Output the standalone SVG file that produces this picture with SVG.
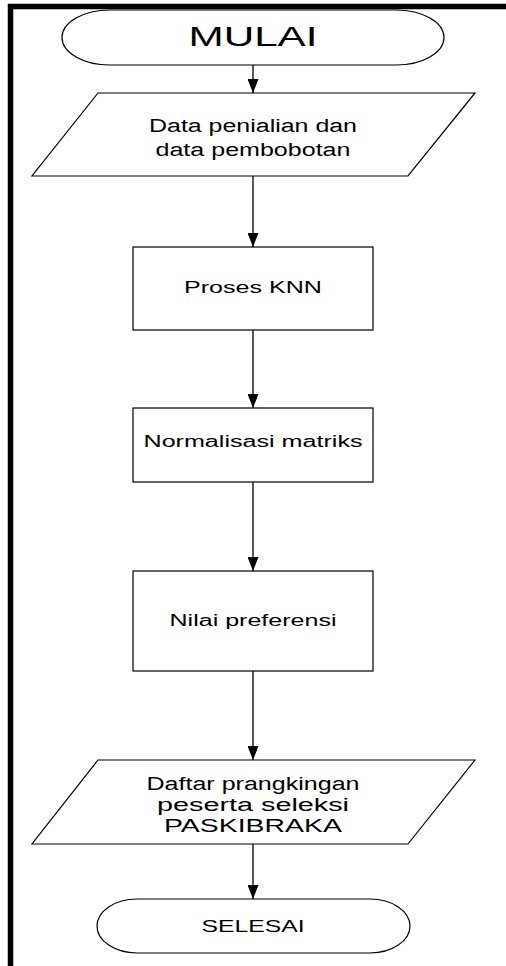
<svg xmlns="http://www.w3.org/2000/svg" width="506" height="966" viewBox="0 0 506 966">
<style>
.s{fill:#fff;stroke:#000;stroke-width:1.2}
.t{font-family:"Liberation Sans",Arial,sans-serif;fill:#000;text-anchor:middle}
.c{stroke:#000;stroke-width:1.3;fill:none}
</style>
<defs>
<marker id="ah" markerUnits="userSpaceOnUse" markerWidth="14" markerHeight="11" refX="14" refY="5.5" orient="auto">
<path d="M0,0 L14,5.5 L0,11 Z" fill="#000"/>
</marker>
</defs>
<rect width="506" height="966" fill="#fff"/>
<path d="M10.5,966 V6.5 H506" fill="none" stroke="#000" stroke-width="5.5" stroke-linejoin="miter"/>
<g id="connectors">
<line class="c" x1="253" y1="65" x2="253" y2="93" marker-end="url(#ah)"/>
<line class="c" x1="253" y1="176" x2="253" y2="247" marker-end="url(#ah)"/>
<line class="c" x1="253" y1="330" x2="253" y2="408" marker-end="url(#ah)"/>
<line class="c" x1="253" y1="482" x2="253" y2="571" marker-end="url(#ah)"/>
<line class="c" x1="253" y1="671" x2="253" y2="760" marker-end="url(#ah)"/>
<line class="c" x1="253" y1="844" x2="253" y2="899" marker-end="url(#ah)"/>
</g>
<g id="mulai">
<rect class="s" x="62" y="10" width="382" height="55" rx="48" ry="27.5"/>
<text class="t" x="253" y="46" font-size="27" textLength="129" lengthAdjust="spacingAndGlyphs">MULAI</text>
</g>
<g id="data-input">
<polygon class="s" points="98,93 475,93 408,176 32,176"/>
<text class="t" x="253" y="132" font-size="18" textLength="208" lengthAdjust="spacingAndGlyphs">Data penialian dan</text>
<text class="t" x="253" y="156" font-size="18" textLength="195" lengthAdjust="spacingAndGlyphs">data pembobotan</text>
</g>
<g id="proses-knn">
<rect class="s" x="133" y="247" width="240" height="83"/>
<text class="t" x="253" y="293" font-size="16" textLength="138" lengthAdjust="spacingAndGlyphs">Proses KNN</text>
</g>
<g id="normalisasi">
<rect class="s" x="133" y="408" width="240" height="74"/>
<text class="t" x="253" y="447" font-size="16" textLength="219" lengthAdjust="spacingAndGlyphs">Normalisasi matriks</text>
</g>
<g id="nilai-preferensi">
<rect class="s" x="133" y="571" width="240" height="100"/>
<text class="t" x="253" y="626" font-size="16" textLength="167" lengthAdjust="spacingAndGlyphs">Nilai preferensi</text>
</g>
<g id="daftar">
<polygon class="s" points="98,760 475,760 408,844 32,844"/>
<text class="t" x="253" y="790" font-size="18" textLength="213" lengthAdjust="spacingAndGlyphs">Daftar prangkingan</text>
<text class="t" x="253" y="811" font-size="18" textLength="192" lengthAdjust="spacingAndGlyphs">peserta seleksi</text>
<text class="t" x="253" y="832" font-size="18" textLength="178" lengthAdjust="spacingAndGlyphs">PASKIBRAKA</text>
</g>
<g id="selesai">
<rect class="s" x="97" y="899" width="313" height="54" rx="40" ry="27"/>
<text class="t" x="253" y="932" font-size="17" textLength="103" lengthAdjust="spacingAndGlyphs">SELESAI</text>
</g>
</svg>
